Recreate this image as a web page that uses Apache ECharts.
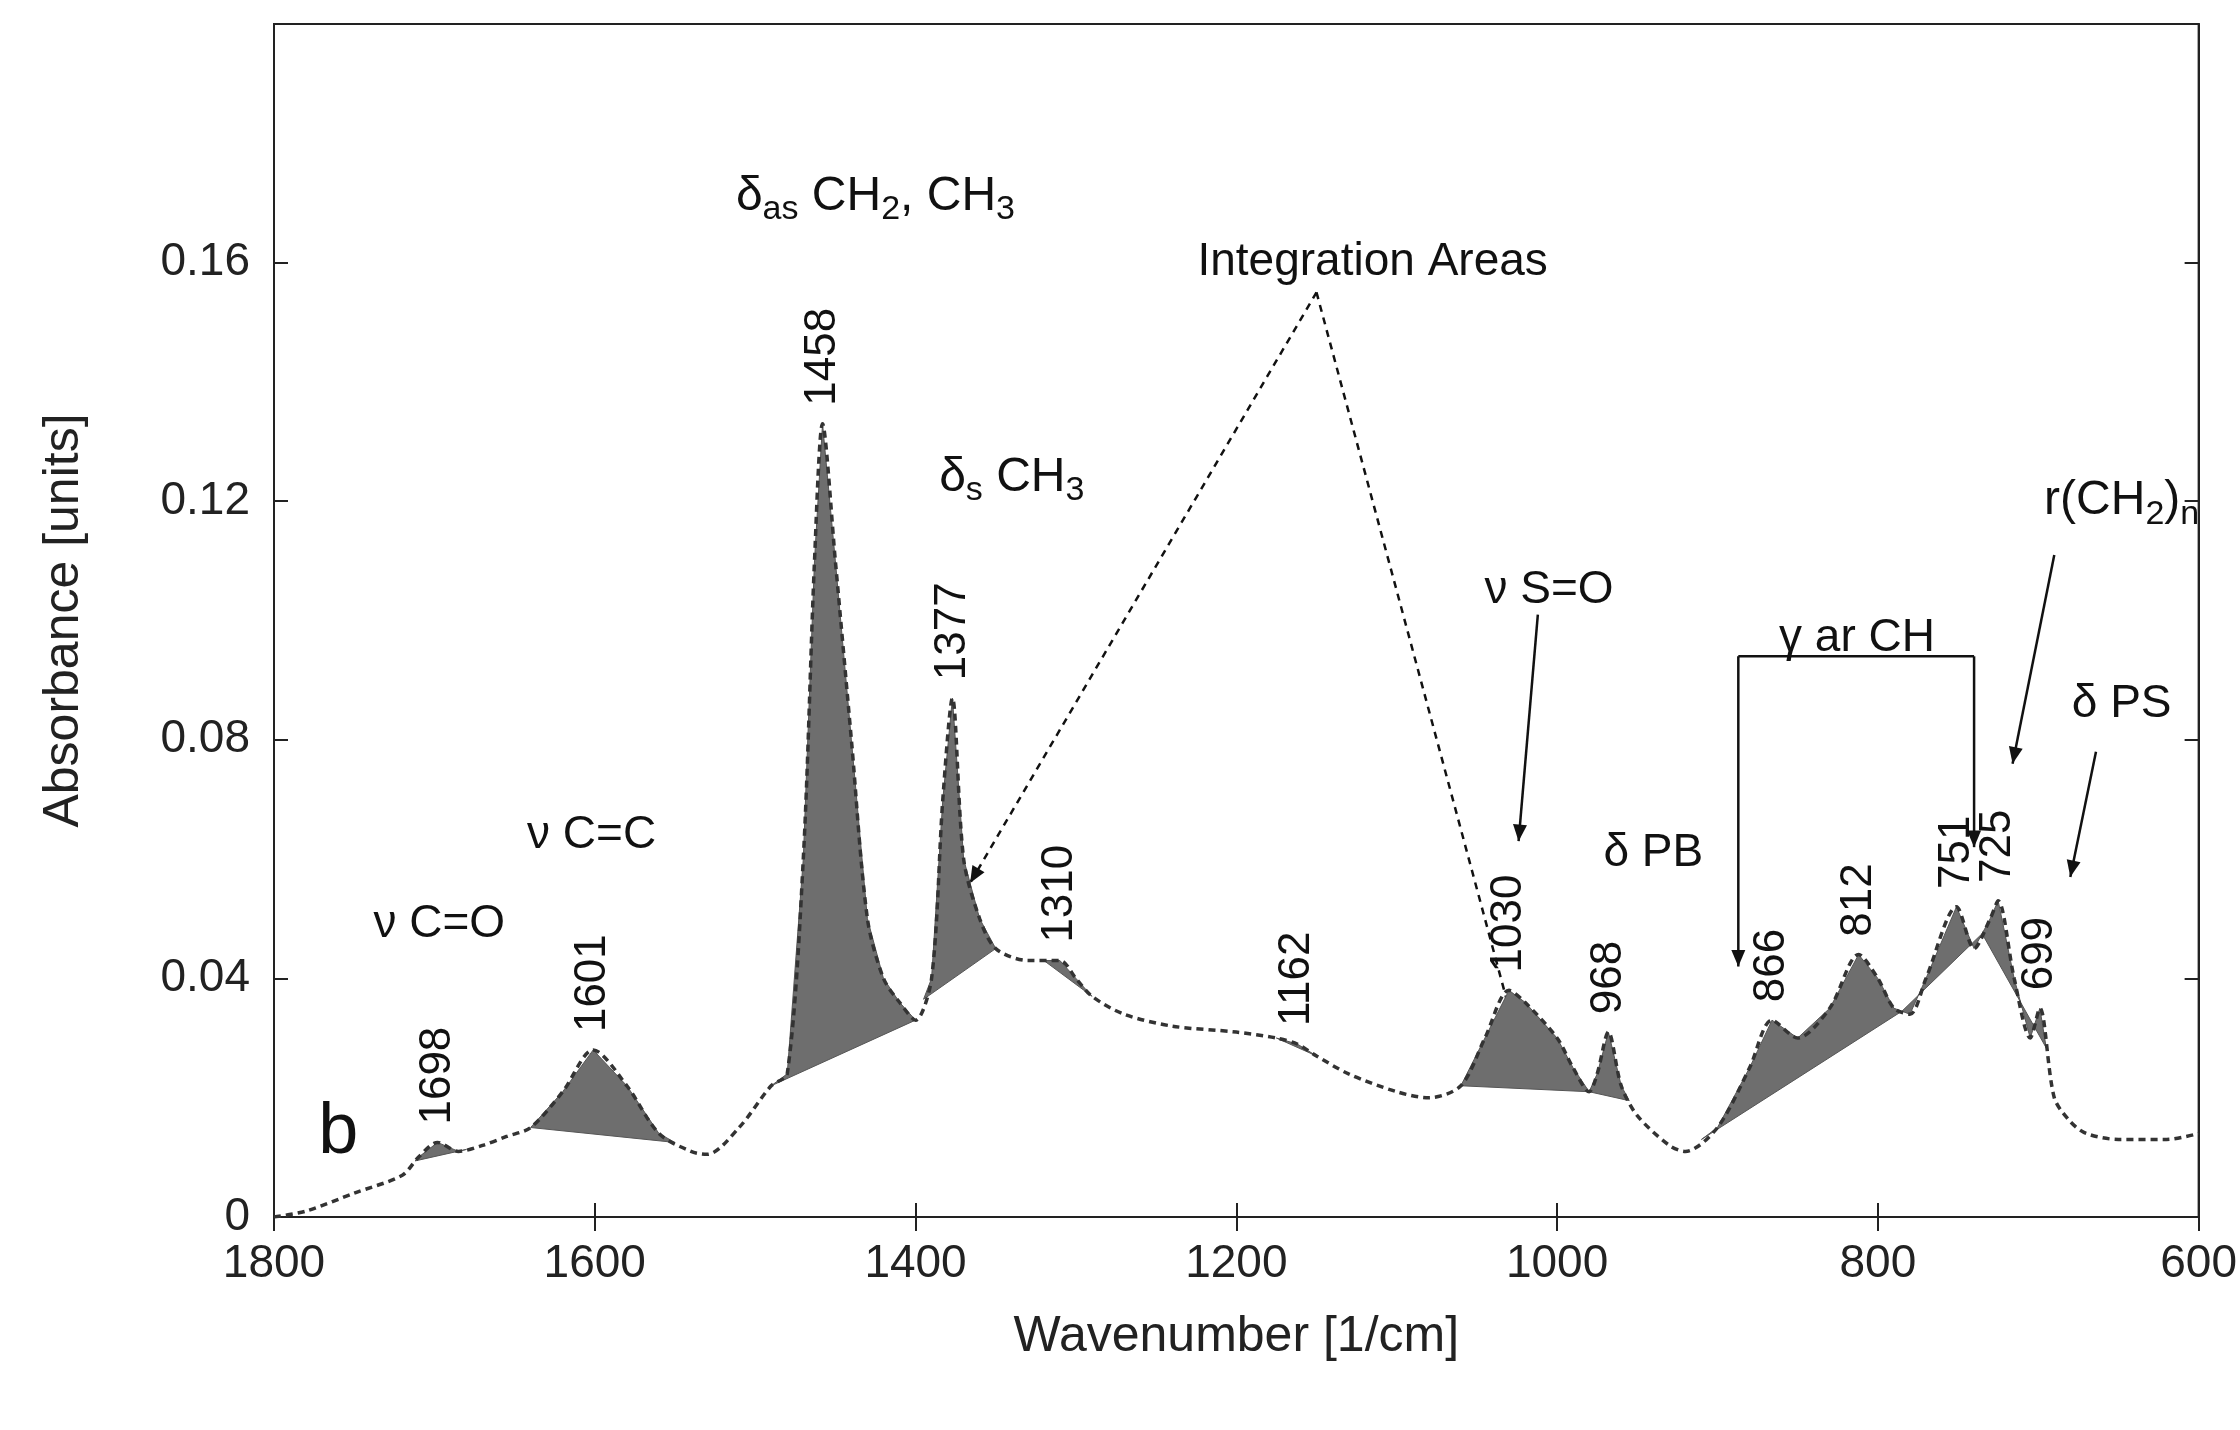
<!DOCTYPE html>
<html><head><meta charset="utf-8">
<script src="https://cdn.jsdelivr.net/npm/echarts@6/dist/echarts.min.js"></script>
<style>html,body{margin:0;background:#fff}#c{width:2240px;height:1430px}</style>
</head><body><div id="c"></div>
<script>
const wavenumbers=[1800,1780,1750,1720,1710,1698,1685,1670,1655,1640,1620,1601,1580,1560,1540,1530,1510,1490,1480,1470,1463,1458,1450,1440,1430,1420,1410,1400,1390,1383,1377,1370,1360,1350,1330,1310,1300,1290,1270,1240,1200,1175,1162,1150,1130,1100,1080,1060,1045,1030,1020,1000,990,980,975,968,960,950,930,920,900,880,866,850,830,812,800,790,780,770,751,740,730,725,715,705,699,690,680,670,650,620,600];
const absorbance=[0,0.001,0.004,0.007,0.010,0.0125,0.011,0.012,0.0135,0.015,0.021,0.028,0.022,0.014,0.011,0.0105,0.015,0.022,0.024,0.06,0.11,0.133,0.11,0.08,0.05,0.04,0.036,0.033,0.04,0.07,0.087,0.06,0.05,0.045,0.043,0.043,0.04,0.037,0.034,0.032,0.031,0.030,0.029,0.027,0.024,0.021,0.020,0.022,0.030,0.038,0.036,0.030,0.025,0.021,0.024,0.031,0.022,0.017,0.012,0.011,0.015,0.025,0.033,0.030,0.035,0.044,0.040,0.035,0.034,0.040,0.052,0.045,0.050,0.053,0.040,0.030,0.035,0.020,0.016,0.014,0.013,0.013,0.014];
const areas=[[1712,1680],[1640,1550],[1490,1400],[1395,1350],[1320,1290],[1175,1150],[1060,980],[980,955],[910,785],[785,735],[735,695]];
const peakLabels=[1698,1601,1458,1377,1310,1162,1030,968,866,812,751,725,699];
const yTicks=[0,0.04,0.08,0.12,0.16];

function interp(w){for(let i=0;i<wavenumbers.length-1;i++){const a=wavenumbers[i],b=wavenumbers[i+1];if(w<=a&&w>=b){return absorbance[i]+(absorbance[i+1]-absorbance[i])*(a-w)/(a-b);}}return 0;}
const curve=wavenumbers.map((w,i)=>[w,absorbance[i]]);
const polys=areas.map(([a,b])=>{const pts=[[a,interp(a)]];wavenumbers.forEach((w,i)=>{if(w<a&&w>b)pts.push([w,absorbance[i]]);});pts.push([b,interp(b)]);return pts;});

const FONT='Liberation Sans, Arial, sans-serif';
const chart=echarts.init(document.getElementById('c'));
const axisCommon={axisLine:{lineStyle:{color:'#222',width:2}},axisTick:{inside:true,length:14,lineStyle:{color:'#222',width:2}},splitLine:{show:false}};
chart.setOption({
  animation:false,
  grid:{left:274,right:40,top:24,bottom:213,show:true,borderColor:'#222',borderWidth:2},
  xAxis:[Object.assign({type:'value',min:600,max:1800,inverse:true,interval:200,name:'Wavenumber [1/cm]',nameLocation:'middle',nameGap:95,nameTextStyle:{fontSize:50,color:'#222',fontFamily:FONT},axisLabel:{fontSize:46,color:'#222',fontFamily:FONT,margin:24,formatter:v=>String(v)}},axisCommon),
         Object.assign({type:'value',min:600,max:1800,inverse:true,interval:200,position:'top',axisLabel:{show:false}},axisCommon)],
  yAxis:[Object.assign({type:'value',min:0,max:0.2,interval:0.04,name:'Absorbance [units]',nameLocation:'middle',nameGap:185,nameTextStyle:{fontSize:50,color:'#222',fontFamily:FONT},axisLabel:{fontSize:46,color:'#222',fontFamily:FONT,margin:24,formatter:v=>{const r=+v.toFixed(2);return yTicks.includes(r)?(r===0?'0':String(r)):'';}}},axisCommon),
         Object.assign({type:'value',min:0,max:0.2,interval:0.04,position:'right',axisLabel:{show:false}},axisCommon)],
  series:[
    {type:'custom',coordinateSystem:'cartesian2d',data:polys.map((p,i)=>[i]),renderItem:(params,api)=>{const p=polys[params.dataIndex];return{type:'polygon',shape:{points:p.map(q=>api.coord(q))},style:{fill:'#6e6e6e',stroke:'#555',lineWidth:1}};},z:2},
    {type:'line',data:curve,showSymbol:false,smooth:0.3,lineStyle:{color:'#333',width:3.5,type:[7,5]},z:3}
  ]
});
function P(x,y){return chart.convertToPixel({xAxisIndex:0,yAxisIndex:0},[x,y]);}
const g=[];
const tstyle=(t,size)=>({text:t,fontSize:size||44,fill:'#111',fontFamily:FONT});
peakLabels.forEach(w=>{const y=interp(w);const p=P(w,y+0.003);g.push({type:'text',x:p[0],y:p[1],rotation:Math.PI/2,style:Object.assign(tstyle(String(w)),{align:'left',verticalAlign:'middle'})});});
function txt(x,y,t,size){const p=P(x,y);g.push({type:'text',x:p[0],y:p[1],style:Object.assign(tstyle(t,size||46),{align:'center',verticalAlign:'middle'})});}
function rich(x,y,t){const p=P(x,y);g.push({type:'text',x:p[0],y:p[1],style:{text:t,fontFamily:FONT,fontSize:48,fill:'#111',align:'center',verticalAlign:'middle',rich:{s:{fontSize:34,padding:[26,0,0,0],fontFamily:FONT,fill:'#111'}}}});}
function line(a,b,dash,arrow){const p=P(a[0],a[1]),q=P(b[0],b[1]);g.push({type:'line',shape:{x1:p[0],y1:p[1],x2:q[0],y2:q[1]},style:{stroke:'#111',lineWidth:2.5,lineDash:dash?[7,6]:null}});
 if(arrow){const ang=Math.atan2(q[1]-p[1],q[0]-p[0]),L=18,W=0.4;g.push({type:'polygon',shape:{points:[[q[0],q[1]],[q[0]-L*Math.cos(ang-W),q[1]-L*Math.sin(ang-W)],[q[0]-L*Math.cos(ang+W),q[1]-L*Math.sin(ang+W)]]},style:{fill:'#111'}});}}
txt(1697,0.049,'ν C=O');
txt(1602,0.064,'ν C=C');
rich(1425,0.171,'δ{s|as} CH{s|2}, CH{s|3}');
rich(1340,0.124,'δ{s|s} CH{s|3}');
txt(1115,0.160,'Integration Areas');
txt(1005,0.105,'ν S=O');
txt(940,0.061,'δ PB');
txt(813,0.097,'γ ar CH');
rich(648,0.120,'r(CH{s|2}){s|n}');
txt(648,0.086,'δ PS');
txt(1760,0.014,'b',72);
line([1150,0.155],[1366,0.056],true,true);
line([1150,0.155],[1022,0.027],true,true);
line([1012,0.101],[1024,0.063],false,true);
line([887,0.094],[740,0.094],false,false);
line([887,0.094],[887,0.042],false,true);
line([740,0.094],[740,0.062],false,true);
line([690,0.111],[716,0.076],false,true);
line([664,0.078],[680,0.057],false,true);
chart.setOption({graphic:g});
</script></body></html>
